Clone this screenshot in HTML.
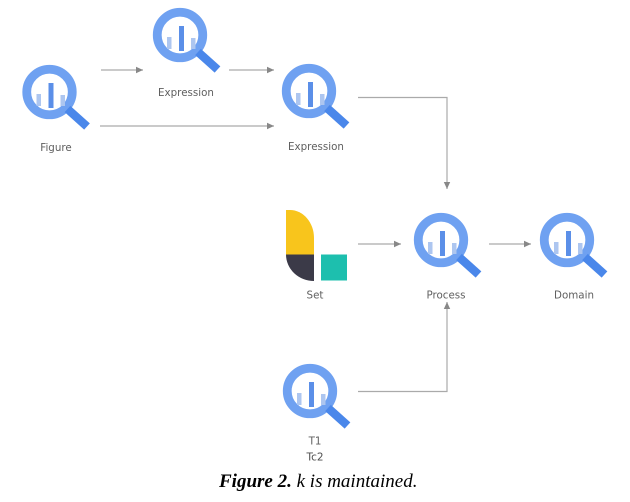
<!DOCTYPE html>
<html><head><meta charset="utf-8"><style>
html,body{margin:0;padding:0;background:#fff;}
body{width:630px;height:502px;overflow:hidden;position:relative;}
svg{position:absolute;left:0;top:0;}
.lbl{font-family:"DejaVu Sans","Liberation Sans",sans-serif;font-size:10.3px;fill:#5f5f5f;text-anchor:middle;}
.cap{position:absolute;left:219px;top:471px;font-family:"Liberation Serif",serif;font-size:19px;font-style:italic;color:#000;white-space:nowrap;}
</style></head><body>
<svg width="630" height="502" viewBox="0 0 630 502">
<defs>
<g id="bq">
<circle cx="0" cy="0" r="22.75" fill="none" stroke="#6fa1f1" stroke-width="8.8"/>
<line x1="18" y1="17" x2="37.5" y2="34.5" stroke="#4a87ea" stroke-width="8.5"/>
<rect x="-1" y="-9" width="5" height="25" fill="#5b8fe8"/>
<rect x="-13" y="2" width="4.5" height="12" fill="#adc6f0"/>
<rect x="11" y="3" width="4.5" height="11" fill="#adc6f0"/>
</g>
<marker id="ah" markerWidth="8" markerHeight="8" refX="7" refY="4" orient="auto" markerUnits="userSpaceOnUse">
<path d="M0,0.8 L7,4 L0,7.2 Z" fill="#888"/>
</marker>
</defs>
<g stroke="#aaa" stroke-width="1.2" fill="none">
<line x1="101" y1="70" x2="143" y2="70" marker-end="url(#ah)"/>
<line x1="229" y1="70" x2="274" y2="70" marker-end="url(#ah)"/>
<line x1="100" y1="126" x2="274" y2="126" marker-end="url(#ah)"/>
<polyline points="358,97.5 447,97.5 447,189" marker-end="url(#ah)"/>
<line x1="358" y1="244" x2="401" y2="244" marker-end="url(#ah)"/>
<line x1="489" y1="244" x2="531" y2="244" marker-end="url(#ah)"/>
<polyline points="358,391.5 447,391.5 447,302" marker-end="url(#ah)"/>
</g>
<use href="#bq" x="49.5" y="92"/>
<use href="#bq" x="180" y="35"/>
<use href="#bq" x="309" y="91"/>
<use href="#bq" x="441" y="240"/>
<use href="#bq" x="567" y="240"/>
<use href="#bq" x="310" y="391"/>
<!-- Set icon -->
<path d="M286,210 L290,210 A24,28 0 0 1 314,238 L314,254.5 L286,254.5 Z" fill="#f8c51c"/>
<path d="M286,254.5 L314,254.5 L314,281 A28,26.5 0 0 1 286,254.5 Z" fill="#3b3a48"/>
<rect x="321" y="254.5" width="26" height="26" fill="#1dbfae"/>
<text class="lbl" x="56" y="151">Figure</text>
<text class="lbl" x="186" y="96">Expression</text>
<text class="lbl" x="316" y="150">Expression</text>
<text class="lbl" x="315" y="298.5">Set</text>
<text class="lbl" x="446" y="298.5">Process</text>
<text class="lbl" x="574" y="298.5">Domain</text>
<text class="lbl" x="315" y="444.5">T1</text>
<text class="lbl" x="315" y="460.5" style="fill:#4f4f4f;font-size:10.5px">Tc2</text>
</svg>
<div class="cap"><b>Figure 2.</b> k is maintained.</div>
</body></html>
